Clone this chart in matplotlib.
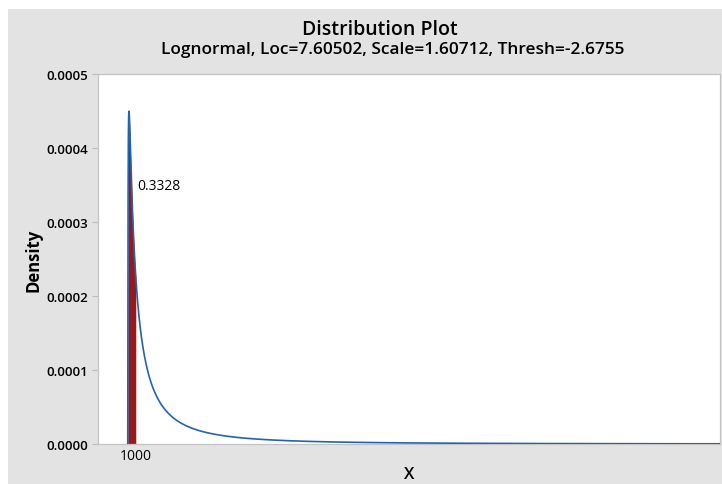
import numpy as np
import matplotlib.pyplot as plt
from matplotlib.patches import Rectangle
from matplotlib.ticker import FormatStrFormatter

# Lognormal parameters of the distribution
loc = 7.60502
scale = 1.60712
thresh = -2.6755
x_crit = 1000
area_label = "0.3328"

y_ticks = [0.0, 0.0001, 0.0002, 0.0003, 0.0004, 0.0005]


def lognorm_pdf(x):
    z = (np.log(x - thresh) - loc) / scale
    return np.exp(-0.5 * z ** 2) / ((x - thresh) * scale * np.sqrt(2 * np.pi))


plt.rcParams['font.family'] = ['Open Sans', 'DejaVu Sans']

fig = plt.figure(figsize=(7.22, 4.85), dpi=100)
fig.patch.set_facecolor('white')
bg = Rectangle((8 / 722, 0), 1, 1 - 10 / 485, transform=fig.transFigure,
               facecolor='#e3e3e3', edgecolor='none', zorder=-10)
fig.patches.append(bg)

ax = fig.add_axes([98 / 722, 40 / 485, 622 / 722, 370 / 485])
ax.set_facecolor('white')

# density curve, sampled densely near the threshold where the peak is sharp
xs = thresh + np.concatenate([[0.0], np.geomspace(1e-2, 80000, 6000)])
ys = np.zeros_like(xs)
ys[1:] = lognorm_pdf(xs[1:])
ax.plot(xs, ys, color='#2462b3', lw=1.2, zorder=3)

# shaded lower tail up to the critical value
xf = xs[xs <= x_crit]
yf = ys[xs <= x_crit]
ax.fill_between(np.append(xf, x_crit), np.append(yf, lognorm_pdf(np.array([x_crit]))[0]),
                color='#951b1b', lw=0, zorder=2)

ax.text(x_crit + 130, 0.00035, area_label, fontsize=10, va='center', ha='left')

ax.set_xlim(-3720, 74000)
ax.set_ylim(0, 0.0005)
ax.set_xticks([x_crit])
ax.set_xticklabels([str(x_crit)], fontsize=10)
ax.set_yticks(y_ticks)
ax.yaxis.set_major_formatter(FormatStrFormatter('%.4f'))
for lab in ax.get_yticklabels():
    lab.set_fontsize(9.5)
    lab.set_fontweight('semibold')
ax.tick_params(axis='y', length=4, color='#bdbdbd', pad=3)
ax.tick_params(axis='x', length=0, pad=3)
for sp in ax.spines.values():
    sp.set_color('#c4c4c4')
    sp.set_linewidth(0.9)

ax.set_xlabel('X', fontsize=12, fontweight='semibold', labelpad=2)
ax.set_ylabel('Density', fontsize=12, fontweight='bold', labelpad=3)

fig.text(380 / 722, 1 - 30 / 485, 'Distribution Plot', ha='center', va='center',
         fontsize=14, fontweight='semibold')
fig.text(393 / 722, 1 - 50 / 485, 'Lognormal, Loc=7.60502, Scale=1.60712, Thresh=-2.6755',
         ha='center', va='center', fontsize=12.4, fontweight='semibold')

fig.savefig('out.png', dpi=100)
